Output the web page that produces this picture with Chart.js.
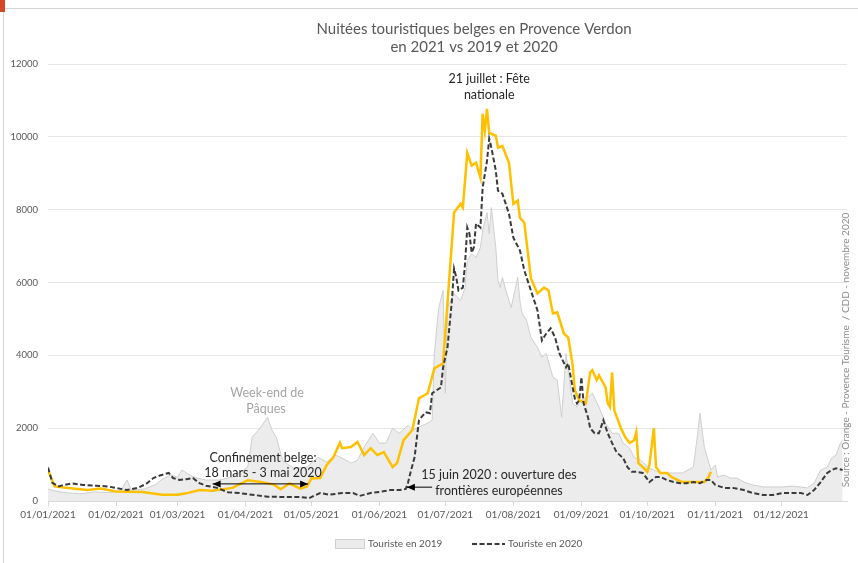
<!DOCTYPE html>
<html lang="fr">
<head>
<meta charset="UTF-8">
<script src="https://cdn.jsdelivr.net/npm/chart.js"></script>
<title>Nuitées touristiques belges en Provence Verdon</title>
<style>
  html, body { margin: 0; padding: 0; background: #fff; }
  .cadre { position: relative; width: 858px; height: 563px; overflow: hidden; }
  .bord { position: absolute; left: 3px; top: 8px; right: 0; bottom: 0;
          border-left: 1px solid #d4d4d4; border-top: 1px solid #d4d4d4; }
  .coin { position: absolute; left: 0; top: 0; width: 5px; height: 12px; background: #d24726; }
  canvas { position: absolute; left: 0; top: 0; }
</style>
</head>
<body>
<div class="cadre">
  <div class="bord"></div>
  <div class="coin"></div>
  <canvas id="nuitees" width="858" height="563"></canvas>
</div>
<script>
// jours depuis le 01/01/2021 (0 = 1er janvier) et nuitées
const jours2019 = [0,3,9,15,21,28,33,36,38,44,49,52,56,59,61,65,68,72,78,84,91,93,97,100,102,104,107,112,118,123,127,131,134,138,141,144,148,151,154,157,160,164,166,169,173,175,176,178,180,181,182,185,188,190,191,193,195,197,198,200,201,202,204,205,206,207,209,211,214,215,216,218,220,223,225,227,230,232,234,236,239,241,243,246,248,251,254,257,260,262,265,267,270,274,279,285,289,294,296,297,299,302,304,305,308,311,314,317,321,326,330,335,339,346,349,352,355,357,359,361,362];
const touristes2019 = [330,280,220,200,250,230,280,575,300,330,450,600,720,650,850,700,630,575,575,660,930,1750,2030,2300,1950,1750,1100,900,930,1200,1070,1260,1180,1040,1120,1480,1860,1590,1590,2000,1860,2080,1950,2030,2140,2220,4050,5310,5780,2960,5310,5700,5500,5860,6600,6790,6690,6960,7420,7920,7340,8060,6960,6050,5860,6140,5700,5310,6140,5500,5150,4960,4490,4220,3950,4050,3400,3320,2300,4050,2680,2580,2770,2850,2960,2580,2140,1860,1860,1590,1450,1200,1120,900,770,770,770,930,1860,2410,1480,850,990,660,710,630,630,520,440,385,385,385,410,360,490,850,930,1180,1260,1590,1670];

const jours2020 = [0,2,5,7,11,16,22,27,31,36,41,45,48,51,55,57,60,63,66,69,72,77,82,87,93,100,107,115,119,124,128,134,139,142,147,151,156,160,163,164,165,167,169,172,174,175,179,180,182,184,185,186,187,189,190,191,192,193,194,195,197,198,200,201,202,204,205,207,210,212,215,217,220,223,225,227,229,231,233,236,237,239,240,241,242,243,244,246,247,249,251,253,255,257,259,262,264,266,268,271,274,277,279,282,285,288,291,294,297,300,302,304,308,312,317,321,326,330,335,339,343,346,349,352,355,357,359,362];
const touristes2020 = [920,500,400,440,480,440,420,400,360,300,360,480,630,700,770,630,575,600,630,490,420,360,240,220,170,120,110,110,80,220,170,220,220,140,220,250,300,300,330,500,750,1200,2220,2440,2410,2960,3120,3670,4220,5500,6380,6140,5780,5860,6520,7510,7340,6820,6960,7620,7510,8600,9340,9950,9700,9070,8520,8440,7890,7230,6880,6330,5780,5230,4410,4600,4740,4490,4050,3670,3780,3120,2820,2680,2770,3400,2680,2300,2000,1860,1860,2220,1860,1590,1340,1180,930,800,800,770,520,660,660,575,520,490,490,520,490,575,575,440,360,360,300,220,165,165,220,220,220,165,300,520,770,850,900,850];

const jours2021 = [0,3,9,18,24,31,43,52,59,63,69,75,84,91,97,103,106,110,115,118,120,124,127,130,133,134,138,141,144,147,150,153,157,159,162,166,169,173,176,180,185,188,189,191,193,195,197,198,199,200,201,204,205,207,210,212,214,215,217,220,223,226,228,230,232,235,237,239,240,242,245,247,248,250,251,254,255,256,257,258,261,263,265,267,268,269,271,273,274,276,277,279,282,284,287,289,294,297,299,301,302];
const touristes2021 = [850,400,360,300,340,260,250,170,170,210,300,280,360,570,520,450,320,480,340,400,620,630,990,1200,1600,1450,1480,1620,1260,1450,1260,1340,930,1040,1670,1950,2820,2960,3640,3780,7920,8160,8060,9560,9210,9290,8880,10630,10160,10770,10110,10030,9700,9750,9290,8160,8250,7780,7640,6110,5700,5860,5780,5150,5180,4600,4490,3730,3040,2770,2680,3530,3590,3320,3450,3120,2680,2580,3530,2490,2000,1750,1590,1670,1890,1040,930,800,990,2000,930,770,770,660,575,520,520,520,520,660,800];

// graduations de l'axe des dates
const joursMois = [0,31,59,90,120,151,181,212,243,273,304,334];
const libellesMois = ['01/01/2021','01/02/2021','01/03/2021','01/04/2021','01/05/2021','01/06/2021',
                      '01/07/2021','01/08/2021','01/09/2021','01/10/2021','01/11/2021','01/12/2021'];

function points(jours, valeurs) {
    return jours.map((j, i) => ({ x: j, y: valeurs[i] }));
}

const police = 'Lato, "Liberation Sans", sans-serif';

function fleche(ctx, x1, x2, y, deuxPointes) {
    ctx.beginPath();
    ctx.moveTo(x1, y);
    ctx.lineTo(x2, y);
    ctx.stroke();
    const pointe = (x, sens) => {
        ctx.beginPath();
        ctx.moveTo(x, y);
        ctx.lineTo(x - sens * 8, y - 3.5);
        ctx.lineTo(x - sens * 8, y + 3.5);
        ctx.closePath();
        ctx.fill();
    };
    pointe(x2, x2 > x1 ? 1 : -1);
    if (deuxPointes) pointe(x1, x2 > x1 ? -1 : 1);
}

const habillage = {
    id: 'habillage',
    afterDraw(chart) {
        const ctx = chart.ctx;
        const x = chart.scales.x, y = chart.scales.y;
        ctx.save();
        ctx.textAlign = 'center';
        ctx.textBaseline = 'middle';

        // titre
        ctx.fillStyle = '#595959';
        ctx.font = '15px ' + police;
        ctx.fillText('Nuitées touristiques belges en Provence Verdon', 474, 29);
        ctx.fillText('en 2021 vs 2019 et 2020', 474, 47);

        // annotations
        ctx.font = '12.5px ' + police;
        ctx.fillStyle = '#262626';
        ctx.fillText('21 juillet : Fête', x.getPixelForValue(201), 79);
        ctx.fillText('nationale', x.getPixelForValue(201), 95);

        ctx.fillStyle = '#a6a6a6';
        ctx.fillText('Week-end de', 267, 393);
        ctx.fillText('Pâques', 266, 409);

        ctx.fillStyle = '#262626';
        ctx.fillText('Confinement belge:', 263, 458);
        ctx.fillText('18 mars - 3 mai 2020', 263, 473);
        ctx.fillText('15 juin 2020 : ouverture des', 499, 475);
        ctx.fillText('frontières européennes', 499, 491);

        ctx.strokeStyle = '#000';
        ctx.fillStyle = '#000';
        ctx.lineWidth = 1;
        fleche(ctx, x.getPixelForValue(75), x.getPixelForValue(118.5), y.getPixelForValue(470), true);
        fleche(ctx, x.getPixelForValue(175), x.getPixelForValue(163.5), y.getPixelForValue(380), false);

        // source, écrite verticalement
        ctx.save();
        ctx.translate(846, 350);
        ctx.rotate(-Math.PI / 2);
        ctx.font = '10px ' + police;
        ctx.fillStyle = '#8c8c8c';
        ctx.fillText('Source : Orange - Provence Tourisme  / CDD - novembre 2020', 0, 0);
        ctx.restore();

        // légende (seules 2019 et 2020 y figurent)
        const d19 = chart.data.datasets[0], d20 = chart.data.datasets[1];
        ctx.font = '10px ' + police;
        ctx.textAlign = 'left';
        ctx.fillStyle = d19.backgroundColor;
        ctx.fillRect(335, 539, 29, 9);
        ctx.strokeStyle = d19.borderColor;
        ctx.lineWidth = 1;
        ctx.strokeRect(335.5, 539.5, 29, 9);
        ctx.fillStyle = '#595959';
        ctx.fillText(d19.label, 368, 544);

        ctx.strokeStyle = d20.borderColor;
        ctx.lineWidth = d20.borderWidth;
        ctx.setLineDash(d20.borderDash);
        ctx.beginPath();
        ctx.moveTo(472, 544);
        ctx.lineTo(505, 544);
        ctx.stroke();
        ctx.setLineDash([]);
        ctx.fillText(d20.label, 508, 544);
        ctx.restore();
    }
};

new Chart(document.getElementById('nuitees'), {
    type: 'line',
    data: {
        datasets: [
            {
                label: 'Touriste en 2019',
                data: points(jours2019, touristes2019),
                borderColor: '#cfcfcf',
                backgroundColor: '#ececec',
                borderWidth: 1,
                fill: 'origin',
                order: 3
            },
            {
                label: 'Touriste en 2020',
                data: points(jours2020, touristes2020),
                borderColor: '#3a3a3a',
                borderWidth: 2,
                borderDash: [5, 2.5],
                fill: false,
                order: 1
            },
            {
                label: 'Touriste en 2021',
                data: points(jours2021, touristes2021),
                borderColor: '#ffc000',
                borderWidth: 2.5,
                fill: false,
                order: 2
            }
        ]
    },
    options: {
        responsive: false,
        animation: false,
        events: [],
        elements: { point: { radius: 0 }, line: { tension: 0 } },
        layout: { padding: { top: 64, right: 11, bottom: 32, left: 0 } },
        plugins: {
            legend: { display: false },
            title: { display: false },
            tooltip: { enabled: false }
        },
        scales: {
            x: {
                type: 'linear',
                min: 0,
                max: 364,
                afterBuildTicks: (scale) => { scale.ticks = joursMois.map(v => ({ value: v })); },
                afterFit: (scale) => { scale.height = 30; scale.paddingLeft = 0; scale.paddingRight = 0; },
                ticks: {
                    autoSkip: false,
                    maxRotation: 0,
                    padding: 3,
                    color: '#595959',
                    font: { family: police, size: 10 },
                    callback: (v) => libellesMois[joursMois.indexOf(v)]
                },
                grid: { drawOnChartArea: false, drawTicks: true, tickLength: 5, color: '#d9d9d9' },
                border: { display: true, color: '#d9d9d9' }
            },
            y: {
                min: 0,
                max: 12000,
                afterFit: (scale) => { scale.width = 48; scale.paddingTop = 0; scale.paddingBottom = 0; },
                ticks: {
                    stepSize: 2000,
                    padding: 10,
                    color: '#595959',
                    font: { family: police, size: 9.5 },
                    callback: (v) => String(v)
                },
                grid: { color: '#e6e6e6', drawTicks: false },
                border: { display: false }
            }
        }
    },
    plugins: [habillage]
});
</script>
</body>
</html>
